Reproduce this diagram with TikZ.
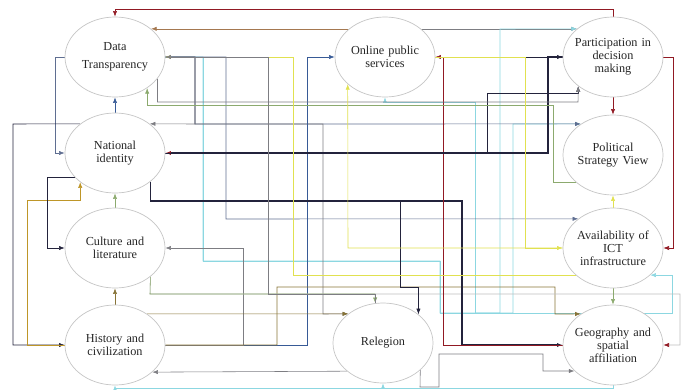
\documentclass[tikz,border=0pt]{standalone}
\usepackage{fontspec}
\setmainfont{Liberation Serif}
\usetikzlibrary{arrows, arrows.meta, shapes.geometric, backgrounds}

\definecolor{colRed}{RGB}{145,25,35}
\definecolor{colBrown}{RGB}{165,120,80}
\definecolor{colGray}{RGB}{125,125,130}
\definecolor{colSlate}{RGB}{95,110,145}
\definecolor{colBlue}{RGB}{55,90,150}
\definecolor{colNavy}{RGB}{35,35,60}
\definecolor{colCyan}{RGB}{140,215,225}
\definecolor{colYellow}{RGB}{225,225,80}
\definecolor{colOlive}{RGB}{135,115,55}
\definecolor{colGold}{RGB}{190,150,40}
\definecolor{colGreen}{RGB}{140,170,110}
\definecolor{colLGray}{RGB}{190,190,190}

\begin{document}
\begin{tikzpicture}[x=0.025cm, y=-0.025cm, font=\fontsize{8.7}{9.2}\selectfont, line width=0.6pt]
    \tikzstyle{node_factor} = [draw=gray!45, line width=0.5pt, ellipse, fill=white, minimum width=2.5cm, minimum height=2cm, text width=2.3cm, align=center, inner xsep=-3.5mm, inner ysep=0pt, text=black!85]
    \tikzstyle{arrow_red} = [->, colRed, >={Latex[length=4pt,width=3pt]}]
    \tikzstyle{arrow_brown} = [->, colBrown, >={Latex[length=4pt,width=3pt]}]
    \tikzstyle{arrow_gray} = [->, colGray, >={Latex[length=4pt,width=3pt]}]
    \tikzstyle{arrow_slate} = [->, colSlate, >={Latex[length=4pt,width=3pt]}]
    \tikzstyle{arrow_blue} = [->, colBlue, >={Latex[length=4pt,width=3pt]}]
    \tikzstyle{arrow_navy} = [->, colNavy, >={Latex[length=4pt,width=3pt]}]
    \tikzstyle{arrow_navyred} = [-{Latex[length=4pt,width=3pt,color=colRed]}, colNavy]
    \tikzstyle{arrow_lgray} = [-{Latex[length=4pt,width=3pt,color=colRed]}, colLGray]
    \tikzstyle{arrow_cyan} = [->, colCyan, >={Latex[length=4pt,width=3pt]}]
    \tikzstyle{arrow_yellow} = [->, colYellow, >={Latex[length=4pt,width=3pt]}]
    \tikzstyle{arrow_olive} = [->, colOlive, >={Latex[length=4pt,width=3pt]}]
    \tikzstyle{arrow_gold} = [->, colGold, >={Latex[length=4pt,width=3pt]}]
    \tikzstyle{arrow_green} = [->, colGreen, >={Latex[length=4pt,width=3pt]}]

    \useasboundingbox (0,0) rectangle (681,389);

    \node[node_factor] (nDT) at (115,57) {Data\\[4pt]Transparency};
    \node[node_factor] (nNI) at (115,153) {National\\identity};
    \node[node_factor] (nCL) at (115,248) {Culture and\\literature};
    \node[node_factor] (nHC) at (115,345) {History and\\civilization};
    \node[node_factor] (nOPS) at (385,57) {Online public\\services};
    \node[node_factor] (nPD) at (613,57) {Participation in\\decision\\making};
    \node[node_factor] (nPSV) at (613,155) {Political\\Strategy View};
    \node[node_factor] (nICT) at (613,248) {Availability of\\ICT\\infrastructure};
    \node[node_factor] (nGS) at (613,345) {Geography and\\spatial\\affiliation};
    \node[node_factor] (nRE) at (383,343) {Relegion};

    \coordinate (jCyan) at (475,313);

    \begin{scope}[on background layer]
    \draw[arrow_red] (nPD.north) |- (115,9) -- (nDT.north);
    \draw[arrow_brown] (nOPS.142) -- (nDT.38);
    \draw[arrow_gray] (nOPS.38) -- (nPD.142);
    \draw[arrow_cyan] (nDT.east) -- (203,57) -- (203,261) -- (440,261) -- (440,313) -- (500,313) -- (500,29) -- (nPD.142);
    \draw[arrow_cyan] (nDT.east) -- (203,57) -- (203,261) -- (440,261) -- (440,313) -- (672,313) |- (nICT.-36);
    \draw[arrow_cyan] (jCyan) |- (385,102) -- (nOPS.south);
    \draw[arrow_cyan] (jCyan) -- (513,313) -- (513,124) -- (nPSV.136);
    \draw[arrow_gray] (nDT.east) -- (195,57) -- (195,124) -- (nNI.40);
    \draw[arrow_slate] (nDT.east) -- (195,57) -- (195,124) -- (nPSV.136);
    \draw[arrow_slate] (nDT.east) -- (226,57) -- (226,219) -- (nICT.140);
    \draw[arrow_gray] (nDT.east) -- (195,57) -- (195,124) -- (323,124) -- (323,314) -- (nRE.140);
    \draw[arrow_blue] (nHC.east) -- (307,345) -- (307,57) -- (nOPS.west);
    \draw[arrow_gray] (nHC.east) -- (243,345) -- (243,248) -- (nCL.east);
    \draw[arrow_olive] (nHC.east) -- (277,345) -- (277,287) -- (555,287) -- (555,314) -- (nGS.136);
    \draw[arrow_olive] (nHC.44) -- (nRE.140);
    \draw[arrow_lgray] (nCL.-39) -- (150,294) -- (680,294) -- (680,345) -- (nGS.east);
    \draw[arrow_green] (nCL.-39) -- (150,294) -- (375,294) -- (nRE.101);
    \draw[arrow_gray] (nRE.218) -- (nHC.-36);
    \draw[arrow_gray] (nRE.-36) -- (420,387) -- (439,387) -- (439,354) -- (543,354) -- (543,371) -- (nGS.214);
    \draw[arrow_cyan] (nGS.south) -- (613,388) -- (115,388) -- (nHC.south);
    \draw[arrow_cyan] (nGS.south) -- (613,388) -- (383,388) -- (nRE.south);
    \draw[arrow_green] (nICT.south) -- (nGS.north);
    \draw[arrow_yellow] (nICT.north) -- (nPSV.south);
    \draw[arrow_red] (nPD.south) -- (nPSV.north);
    \draw[arrow_blue] (nNI.north) -- (nDT.south);
    \draw[arrow_olive] (nHC.north) -- (nCL.south);
    \draw[arrow_green] (nCL.north) -- (nNI.south);
    \draw[arrow_slate] (nDT.west) -- (55,57) -- (55,153) -- (nNI.west);
    \draw[arrow_navy] (nNI.140) -- (13,124) -- (13,345) -- (nHC.west);
    \draw[arrow_gold] (nHC.west) -- (27,345) -- (27,200) -| (nNI.220);
    \draw[arrow_navy] (nNI.211) -| (47,248) -- (nCL.west);
    \draw[arrow_navy, line width=0.9pt] (nNI.-39) |- (462,201) -- (462,345) -- (nGS.west);
    \draw[arrow_navy] (nNI.-39) |- (400,201) -- (400,287) -| (nRE.39);
    \draw[arrow_red] (nGS.west) -- (443,345) -- (443,57) -- (nOPS.east);
    \draw[arrow_navy] (nOPS.east) -- (nPD.west);
    \draw[arrow_navyred, line width=0.9pt] (nPD.west) -- (548,57) -- (548,153) -- (nNI.east);
    \draw[arrow_navy] (nNI.east) -- (487,153) -- (487,93) -| (nPD.220);
    \draw[arrow_gray] (nDT.-27) |- (578,102) -- (nPD.220);
    \draw[arrow_green] (nPSV.216) -| (553,105) -| (nDT.-44);
    \draw[arrow_red] (nPD.east) -- (673,57) -- (673,248) -- (nICT.east);
    \draw[arrow_yellow] (nICT.216) -| (293,57) -- (nDT.east);
    \draw[arrow_yellow] (nOPS.east) -| (525,248) -- (nICT.west);
    \draw[arrow_yellow] (nICT.west) -- (348,248) -- (nOPS.216);
    \draw[arrow_gray] (nRE.101) |- (268,294) -- (268,57) -- (nDT.east);
    \end{scope}

\end{tikzpicture}
\end{document}
